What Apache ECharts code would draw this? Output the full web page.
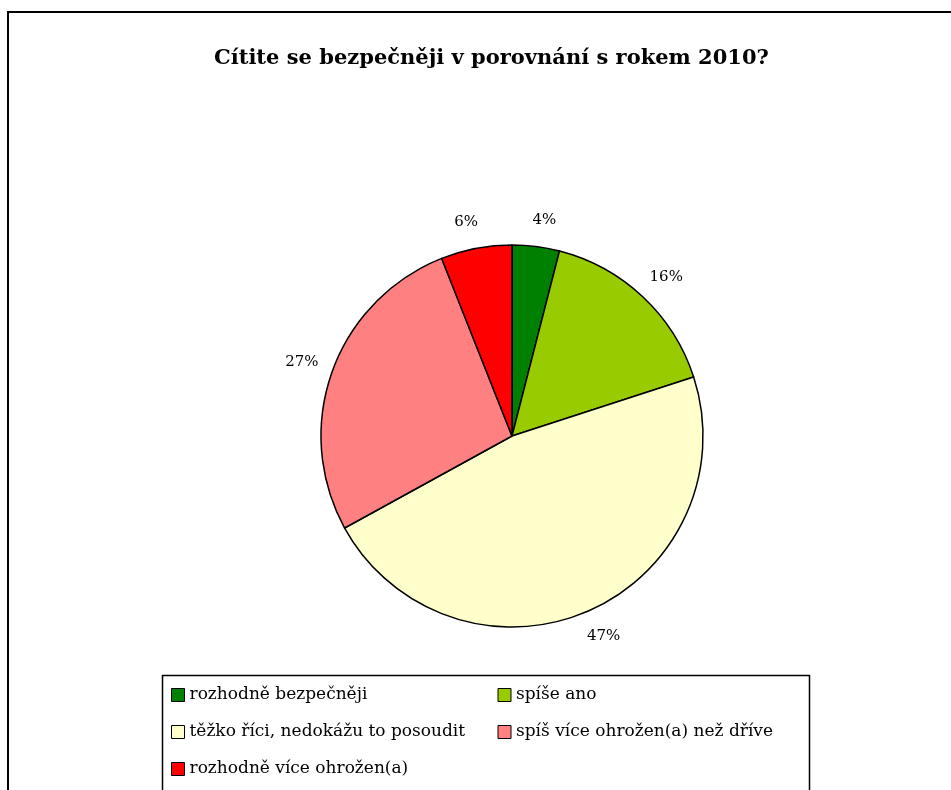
<!DOCTYPE html>
<html>
<head>
<meta charset="utf-8">
<script src="https://cdn.jsdelivr.net/npm/echarts@6/dist/echarts.min.js"></script>
<style>
html,body{margin:0;padding:0;background:#fff;}
#chart{width:951px;height:790px;}
</style>
</head>
<body>
<div id="chart"></div>
<script>
const titleText = 'Cítite se bezpečněji v porovnání s rokem 2010?';
const categories = [
  'rozhodně bezpečněji',
  'spíše ano',
  'těžko říci, nedokážu to posoudit',
  'spíš více ohrožen(a) než dříve',
  'rozhodně více ohrožen(a)'
];
const values = [4, 16, 47, 27, 6];
const colors = ['#008000', '#99CC00', '#FFFFCC', '#FF8080', '#FF0000'];

const serif = '"DejaVu Serif", "Liberation Serif", serif';

const chart = echarts.init(document.getElementById('chart'), null, {renderer: 'canvas'});
chart.setOption({
  backgroundColor: '#ffffff',
  animation: false,
  title: {
    text: titleText,
    left: 214,
    top: 48,
    padding: 0,
    textStyle: {fontFamily: serif, fontWeight: 'bold', fontSize: 21, color: '#000'}
  },
  graphic: [
    {type: 'rect', shape: {x: 8, y: 12, width: 1000, height: 900}, style: {fill: 'none', stroke: '#000', lineWidth: 2}, silent: true},
    {type: 'rect', shape: {x: 162.5, y: 675.5, width: 647, height: 200}, style: {fill: 'none', stroke: '#000', lineWidth: 1.5}, silent: true}
  ],
  legend: {
    left: 171,
    top: 685,
    width: 700,
    orient: 'horizontal',
    itemWidth: 13,
    itemHeight: 13,
    itemGap: 17,
    icon: 'rect',
    padding: 0,
    itemStyle: {borderColor: '#000', borderWidth: 1},
    textStyle: {fontFamily: serif, fontSize: 17, color: '#000', width: 291, lineHeight: 20},
    data: categories
  },
  series: [{
    type: 'pie',
    center: [512, 436],
    radius: 191,
    startAngle: 90,
    clockwise: true,
    color: colors,
    itemStyle: {borderColor: '#000', borderWidth: 1.5},
    label: {
      show: true,
      position: 'outside',
      formatter: '{c}%',
      fontFamily: serif,
      fontSize: 15,
      color: '#000'
    },
    labelLine: {show: false, length: 27, length2: 0},
    labelLayout: {align: 'center', verticalAlign: 'middle'},
    emphasis: {disabled: true},
    data: categories.map((n, i) => ({name: n, value: values[i]}))
  }]
});
</script>
</body>
</html>
